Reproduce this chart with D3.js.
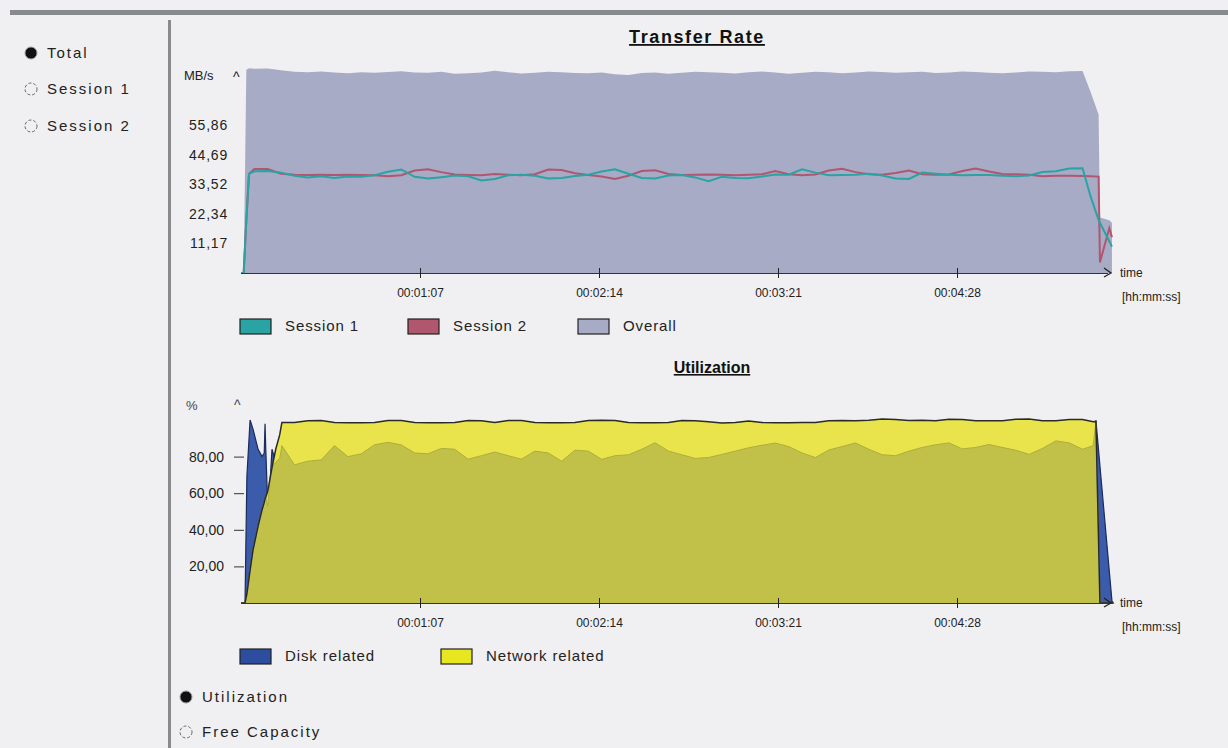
<!DOCTYPE html>
<html>
<head>
<meta charset="utf-8">
<script src="https://cdn.jsdelivr.net/npm/d3@7"></script>
<style>
  body { margin: 0; background: #f0f0f2; font-family: "Liberation Sans", Arial, sans-serif; }
  svg { display: block; }
</style>
</head>
<body>
<svg width="1228" height="748"></svg>
<script>
// time axis (seconds) and tick labels
const timeTicks = [67, 134, 201, 268];
const timeLabels = ["00:01:07", "00:02:14", "00:03:21", "00:04:28"];

// Transfer rate (MB/s)
const rateTicks = [11.17, 22.34, 33.52, 44.69, 55.86];
const rateLabels = ["11,17", "22,34", "33,52", "44,69", "55,86"];
const rateTimes = [0, 1, 2, 3, 5, 10, 15, 20, 25, 30, 35, 40, 45, 50, 55, 60, 65, 70, 75, 80, 85, 90, 95, 100,
  105, 110, 115, 120, 125, 130, 135, 140, 145, 150, 155, 160, 165, 170, 175, 180, 185, 190, 195, 200,
  205, 210, 215, 220, 225, 230, 235, 240, 245, 250, 255, 260, 265, 270, 275, 280, 285, 290, 295, 300,
  305, 310, 315, 318, 321, 321.5, 325, 326];
const overallRate = [0, 0, 77, 77.5,
  77.3, 77.4, 76.8, 76.2, 76.0, 76.3, 75.9, 75.6, 76.0, 75.8,
  76.1, 76.4, 75.9, 75.8, 76.2, 75.4, 75.6, 75.9, 76.6, 76.0,
  75.5, 75.8, 76.2, 76.0, 75.7, 75.6, 75.9, 75.3, 75.0, 75.7,
  75.9, 75.4, 75.8, 76.2, 76.0, 75.8, 75.5, 76.0, 76.3, 75.9,
  75.4, 75.8, 76.2, 76.0, 75.6, 75.9, 76.3, 76.1, 75.8, 76.0,
  76.2, 75.7, 75.9, 76.3, 76.1, 75.8, 75.6, 75.9, 76.3, 76.2,
  76.0, 76.4, 76.5,
  68.5, 60, 21, 20, 19];
const session1Rate = [0, 0, 20, 37.5,
  38.5, 38.6, 38.0, 36.8, 36.2, 36.6, 36.0, 36.5, 36.4, 37.0,
  38.3, 39.2, 36.4, 35.8, 36.3, 36.9, 36.6, 35.0, 35.6, 37.0,
  37.2, 36.8, 35.8, 36.0, 36.7, 37.2, 38.4, 39.3, 37.6, 36.0,
  35.8, 36.9, 37.1, 36.2, 34.8, 36.4, 36.0, 35.9, 36.5, 37.3,
  37.2, 39.3, 38.0, 37.0, 37.1, 37.2, 37.6, 36.9, 35.8, 35.6,
  38.0, 37.6, 37.2, 37.0, 37.1, 37.1, 36.8, 36.6, 36.9, 38.2,
  38.5, 39.6, 39.7,
  29, 20, 19, 12, 10];
const session2Rate = [0, 0, 20, 37.5,
  39.4, 39.4, 37.6, 37.2, 37.1, 37.2, 37.1, 37.2, 37.1, 37.0,
  36.6, 37.0, 38.8, 39.3, 38.2, 37.3, 37.1, 37.0, 37.5, 37.2,
  37.0, 37.4, 39.2, 39.0, 37.8, 37.1, 36.5, 35.6, 36.8, 38.6,
  38.9, 37.5, 37.1, 37.2, 37.3, 37.2, 37.0, 37.2, 37.4, 38.6,
  37.4, 37.0, 37.3, 38.8, 39.5, 38.2, 37.4, 37.2, 37.9, 38.8,
  37.4, 37.2, 37.3, 38.6, 39.6, 38.4, 37.5, 37.4, 37.2, 36.6,
  36.8, 36.8, 36.7,
  36.6, 36.5, 4, 17, 13.5];

// Utilization (%)
const utilTicks = [20, 40, 60, 80];
const utilLabels = ["20,00", "40,00", "60,00", "80,00"];
const utilTimes = [0, 1.5, 2.2, 3.4, 4.5, 6.4, 7.9, 8.7, 9, 9.3, 10, 11, 11.6, 13, 14.5, 15.3,
  20, 25, 30, 35, 40, 45, 50, 55, 60, 65, 70, 75, 80, 85, 90, 95, 100, 105, 110, 115,
  120, 125, 130, 135, 140, 145, 150, 155, 160, 165, 170, 175, 180, 185, 190, 195, 200, 205, 210, 215,
  220, 225, 230, 235, 240, 245, 250, 255, 260, 265, 270, 275, 280, 285, 290, 295, 300, 305, 310, 315,
  319, 320, 321.5, 326, 326.5];
const diskUtil = [0, 0, 69, 100, 95, 84, 80, 82, 98, 83, 53, 69, 84, 77, 79, 86,
  75.5, 77.5, 78.2, 86, 80, 81.5, 86.5, 87.8, 86.4, 82,
  81.5, 84.5, 84, 78.6, 80.5, 82.5, 80.5, 78.6, 83, 82,
  77.5, 83.5, 83, 78.5, 80.5, 81, 84, 87.6, 83, 81,
  79, 79.5, 81.2, 83, 84.8, 86.2, 87.4, 85.5, 82, 79.5,
  83.6, 85.5, 87.5, 84, 81, 80.5, 83, 85, 86.5, 87.5,
  84.2, 85, 86.6, 85, 83.5, 81.2, 84.5, 88.6, 87.5, 84,
  86, 99.8, 75, 1, 0];
const networkUtil = [0, 0, 5, 18, 29, 42, 51, 55, 57, 58, 61, 69, 74, 84, 92, 98.6,
  98.6, 99.6, 99.7, 98.6, 98.5, 98.5, 98.6, 99.7, 99.7, 98.6,
  98.5, 98.5, 98.6, 99.7, 99.6, 98.6, 99.7, 99.7, 98.6, 98.5,
  98.5, 98.6, 99.7, 99.8, 99.7, 98.6, 98.5, 98.5, 98.6, 99.7,
  99.6, 99.0, 98.4, 98.6, 99.5, 98.6, 98.5, 98.5, 98.6, 98.6,
  99.6, 99.7, 99.6, 99.8, 100.5, 100.3, 99.7, 99.8, 99.6, 100.4,
  100.3, 99.6, 99.6, 99.6, 100.4, 100.5, 99.6, 99.6, 100.3, 100.3,
  99, 99.2, 0, 0, 0];

const rateLegend = [
  { name: "Session 1", color: "#2aa3a3" },
  { name: "Session 2", color: "#b0566f" },
  { name: "Overall", color: "#a8abc6" }
];
const utilLegend = [
  { name: "Disk related", color: "#2d4d9e" },
  { name: "Network related", color: "#e8e620" }
];

const svg = d3.select("svg");

// frame: top bar and separator
svg.append("rect").attr("x", 10).attr("y", 10).attr("width", 1218).attr("height", 5).attr("fill", "#878b8d");
svg.append("rect").attr("x", 168).attr("y", 20).attr("width", 3).attr("height", 728).attr("fill", "#8a8a8a");

function radio(x, y, label, checked) {
  const g = svg.append("g");
  g.append("circle").attr("cx", x).attr("cy", y).attr("r", 6)
    .attr("fill", checked ? "#111" : "none")
    .attr("stroke", checked ? "#999" : "#666")
    .attr("stroke-dasharray", checked ? null : "3,2");
  g.append("text").attr("x", x + 16).attr("y", y + 5)
    .attr("font-size", 15).attr("letter-spacing", 2).attr("fill", "#222").text(label);
}
radio(31, 53, "Total", true);
radio(31, 89, "Session 1", false);
radio(31, 126, "Session 2", false);
radio(186, 697, "Utilization", true);
radio(186, 732, "Free Capacity", false);

const x = d3.scaleLinear().domain([0, 326]).range([241, 241 + 326 * 179 / 67]);

function timeAxis(baseY) {
  const g = svg.append("g").attr("transform", `translate(0,${baseY})`)
    .call(d3.axisBottom(x).tickValues(timeTicks).tickFormat((d, i) => timeLabels[i])
      .tickSizeInner(5).tickSizeOuter(0).tickPadding(10));
  g.select(".domain").attr("stroke", "#333").attr("d", `M${x(0)},0.5H${x(326) - 4}`);
  g.selectAll(".tick line").attr("y1", -5).attr("stroke", "#222");
  g.selectAll(".tick text").attr("font-size", 12).attr("fill", "#222")
    .attr("font-family", "Liberation Sans, Arial, sans-serif");
  // arrow and unit
  svg.append("path").attr("d", `M1104,${baseY - 5}L1111,${baseY}L1104,${baseY + 4}`)
    .attr("fill", "none").attr("stroke", "#222").attr("stroke-width", 1.3);
  svg.append("text").attr("x", 1120).attr("y", baseY + 4).attr("font-size", 12).attr("fill", "#222").text("time");
  svg.append("text").attr("x", 1122).attr("y", baseY + 28).attr("font-size", 12).attr("fill", "#222").text("[hh:mm:ss]");
}

function title(cx, y, text, size, spacing) {
  svg.append("text").attr("x", cx).attr("y", y).attr("text-anchor", "middle")
    .attr("font-size", size).attr("font-weight", "bold").attr("fill", "#111")
    .attr("letter-spacing", spacing)
    .attr("text-decoration", "underline").text(text);
}

function legend(items, y, xs) {
  items.forEach((d, i) => {
    svg.append("rect").attr("x", xs[i]).attr("y", y - 7).attr("width", 31).attr("height", 15)
      .attr("fill", d.color).attr("stroke", "#222").attr("stroke-width", 1.2);
    svg.append("text").attr("x", xs[i] + 45).attr("y", y + 5).attr("font-size", 15)
      .attr("letter-spacing", 0.9).attr("fill", "#222").text(d.name);
  });
}

// ---------- Transfer Rate ----------
title(697, 43, "Transfer Rate", 18, 1.6);
const yRate = d3.scaleLinear().domain([0, 78]).range([273, 273 - 78 * 29.5 / 11.17]);
const rateData = rateTimes.map((t, i) => ({ t, o: overallRate[i], s1: session1Rate[i], s2: session2Rate[i] }));

svg.append("path").datum(rateData)
  .attr("fill", "#a8abc6")
  .attr("d", d3.area().x(d => x(d.t)).y0(yRate(0)).y1(d => yRate(d.o)));
svg.append("path").datum(rateData)
  .attr("fill", "none").attr("stroke", "#b0566f").attr("stroke-width", 2)
  .attr("d", d3.line().x(d => x(d.t)).y(d => yRate(d.s2)));
svg.append("path").datum(rateData)
  .attr("fill", "none").attr("stroke", "#2aa3a3").attr("stroke-width", 2)
  .attr("d", d3.line().x(d => x(d.t)).y(d => yRate(d.s1)));

const yRateAxis = svg.append("g").attr("transform", "translate(243,0)")
  .call(d3.axisLeft(yRate).tickValues(rateTicks).tickFormat((d, i) => rateLabels[i]).tickSize(0).tickPadding(15));
yRateAxis.select(".domain").remove();
yRateAxis.selectAll("text").attr("font-size", 14).attr("letter-spacing", 0.8).attr("fill", "#222")
  .attr("font-family", "Liberation Sans, Arial, sans-serif");
svg.append("text").attr("x", 184).attr("y", 80).attr("font-size", 13).attr("fill", "#222").text("MB/s");
svg.append("text").attr("x", 233).attr("y", 82).attr("font-size", 14).attr("fill", "#222").text("^");
timeAxis(273);
legend(rateLegend, 326, [240, 408, 578]);

// ---------- Utilization ----------
title(712, 373, "Utilization", 16, 0);
const yUtil = d3.scaleLinear().domain([0, 100]).range([603, 420]);
const utilData = utilTimes.map((t, i) => ({ t, d: diskUtil[i], n: networkUtil[i] }));

svg.append("path").datum(utilData)
  .attr("fill", "#3b5bab").attr("stroke", "#1c2a5c").attr("stroke-width", 1.2)
  .attr("d", d3.area().x(d => x(d.t)).y0(yUtil(0)).y1(d => yUtil(d.d)));
svg.append("path").datum(utilData)
  .attr("fill", "#e9e44b")
  .attr("d", d3.area().x(d => x(d.t)).y0(yUtil(0)).y1(d => yUtil(d.n)));
svg.append("path").datum(utilData)
  .attr("fill", "#c1c14a")
  .attr("d", d3.area().x(d => x(d.t)).y0(yUtil(0)).y1(d => yUtil(Math.min(d.d, d.n))));
svg.append("path").datum(utilData)
  .attr("fill", "none").attr("stroke", "#aeae3a").attr("stroke-width", 1)
  .attr("d", d3.line().x(d => x(d.t)).y(d => yUtil(Math.min(d.d, d.n))));
svg.append("path").datum(utilData)
  .attr("fill", "none").attr("stroke", "#2a2a2a").attr("stroke-width", 1.5)
  .attr("d", d3.line().x(d => x(d.t)).y(d => yUtil(d.n)));

const yUtilAxis = svg.append("g").attr("transform", "translate(244,0)")
  .call(d3.axisLeft(yUtil).tickValues(utilTicks).tickFormat((d, i) => utilLabels[i]).tickSize(10).tickPadding(10));
yUtilAxis.select(".domain").remove();
yUtilAxis.selectAll("line").attr("stroke", "#333");
yUtilAxis.selectAll("text").attr("font-size", 14).attr("fill", "#222").attr("font-family", "Liberation Sans, Arial, sans-serif");
svg.append("text").attr("x", 186).attr("y", 410).attr("font-size", 13).attr("fill", "#444").text("%");
svg.append("text").attr("x", 234).attr("y", 410).attr("font-size", 14).attr("fill", "#444").text("^");
timeAxis(603);
legend(utilLegend, 656, [240, 441]);
</script>
</body>
</html>
